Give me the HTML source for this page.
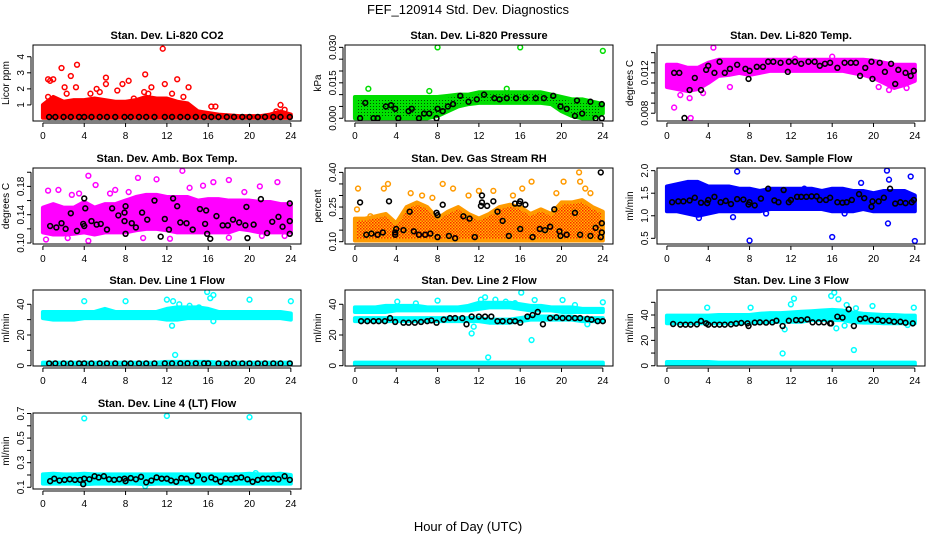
<!DOCTYPE html>
<html><head><meta charset="utf-8"><style>
html,body{margin:0;padding:0;background:#fff;}
svg{display:block;font-family:"Liberation Sans",sans-serif;}
</style></head><body>
<svg id="chart" width="936" height="540" viewBox="0 0 936 540" xmlns="http://www.w3.org/2000/svg">
<defs>
<pattern id="pGreen" width="3" height="3" patternUnits="userSpaceOnUse"><rect width="3" height="3" fill="#00e000"/><rect x="1" y="1" width="1" height="1" fill="#005000"/></pattern>
<pattern id="pOrange" width="3" height="3" patternUnits="userSpaceOnUse"><rect width="3" height="3" fill="#ffc000"/><rect x="0" y="0" width="1.5" height="1.5" fill="#ff2000"/><rect x="1.5" y="1.5" width="1.5" height="1.5" fill="#ff4000"/></pattern>
</defs>
<text x="468" y="14" font-size="13" text-anchor="middle">FEF_120914  Std. Dev. Diagnostics</text>
<text x="468" y="531" font-size="13" text-anchor="middle">Hour of Day (UTC)</text>
</svg>
<script>
// ---------- data ----------
const xTicks = [0,4,8,12,16,20,24];
const bandHours = [0,1,2,3,4,5,6,7,8,9,10,11,12,13,14,15,16,17,18,19,20,21,22,23,24];

const co2BandLow  = [0.2,0.2,0.2,0.2,0.2,0.2,0.2,0.2,0.2,0.2,0.2,0.2,0.2,0.2,0.2,0.2,0.2,0.2,0.2,0.2,0.2,0.2,0.2,0.2,0.2];
const co2BandHigh = [1.0,1.5,1.2,1.3,1.3,1.4,1.3,1.2,1.2,1.3,1.5,1.4,1.4,1.2,1.1,0.6,0.5,0.4,0.35,0.3,0.3,0.3,0.4,0.6,0.4];
const co2Outliers = [[0.5,2.6],[0.7,2.5],[1,2.6],[1.8,3.3],[2.1,2.1],[2.7,2.8],[3.3,3.5],[3.2,2.1],[6.1,2.7],[6.1,2.3],[7.7,2.3],[8.3,2.5],[9.9,2.9],[10.5,2.1],[11.6,4.5],[11.8,2.3],[13,2.6],[14.1,2.1],[4.6,1.7],[5.2,2.0],[0.5,1.5],[5.5,1.8],[8.8,1.4],[9.8,1.8],[12.5,1.7],[23,1.0],[22.6,0.6],[23.4,0.7],[16.3,0.9],[16.7,0.9],[2.3,1.7],[7.2,1.9],[10.2,1.7],[13.6,1.5]];
const co2Black = [[0.6,0.25],[1.2,0.25],[2,0.25],[2.7,0.25],[3.5,0.25],[4,0.25],[4.7,0.25],[5.5,0.25],[6.2,0.25],[7,0.25],[7.9,0.25],[8.5,0.25],[9.3,0.25],[10,0.25],[10.8,0.25],[11.8,0.25],[12.5,0.25],[13.3,0.25],[14,0.25],[14.8,0.25],[15.6,0.25],[16.3,0.25],[17,0.25],[17.8,0.25],[18.5,0.25],[19.3,0.25],[20,0.25],[20.8,0.25],[21.5,0.25],[22.3,0.25],[23,0.25],[23.9,0.25]];

const presBandLow  = [0,0,0,0,0,0,0,0,0.001,0.003,0.005,0.006,0.0065,0.0065,0.0065,0.0065,0.0065,0.0065,0.0065,0.006,0.003,0.001,0,0,0.002];
const presBandHigh = [0.009,0.009,0.009,0.009,0.009,0.009,0.009,0.009,0.009,0.0095,0.010,0.010,0.011,0.011,0.011,0.011,0.011,0.011,0.011,0.010,0.009,0.008,0.008,0.007,0.006];
const presOutliers = [[8,0.030],[16,0.030],[24,0.0285],[1.3,0.0125],[7.2,0.0115],[14.7,0.0125]];
const presBlack = [[0.5,0],[1,0.0065],[1.8,0],[2.2,0],[3,0.005],[3.5,0.0055],[3.9,0.004],[4.2,0],[5.2,0.003],[5.5,0.004],[6.2,0],[6.7,0.002],[7.2,0.002],[7.9,0],[8,0.004],[8.5,0.003],[9,0.005],[9.5,0.006],[10.2,0.0095],[11,0.007],[11.8,0.008],[12.5,0.010],[13.5,0.0085],[14,0.008],[14.7,0.0085],[15.6,0.0085],[16.5,0.0085],[17.5,0.0085],[18.3,0.0085],[19.2,0.0095],[19.9,0.005],[20.5,0.004],[21.3,0.001],[21.5,0.0075],[22,0.002],[22.8,0.007],[23.3,0],[23.9,0],[23.9,0.006]];

const tempBandLow  = [0.0106,0.0104,0.0102,0.0104,0.0110,0.0117,0.0118,0.0120,0.0118,0.0120,0.0122,0.0122,0.0122,0.0122,0.0122,0.0122,0.0122,0.0122,0.0120,0.0118,0.0115,0.0110,0.0105,0.0108,0.0112];
const tempBandHigh = [0.0128,0.0128,0.0125,0.0125,0.0130,0.0133,0.0133,0.0133,0.0133,0.0133,0.0133,0.0133,0.0133,0.0133,0.0133,0.0133,0.0133,0.0133,0.0133,0.0133,0.0132,0.0130,0.0128,0.0128,0.0128];
const tempOutliers = [[4.5,0.0145],[0.7,0.00856],[2.3,0.00753],[16,0.0136],[12.4,0.0134],[2.2,0.0095],[6.1,0.0106],[20.5,0.0106],[21.5,0.0103],[23.2,0.0105],[1.3,0.0098],[3.5,0.0100]];
const tempBlack = [[0.7,0.0120],[1.2,0.0120],[1.7,0.00753],[2.2,0.0103],[2.7,0.0115],[3.3,0.0103],[3.8,0.0123],[4,0.0127],[4.6,0.0120],[5.1,0.0131],[5.6,0.0120],[6.1,0.0124],[6.8,0.0128],[7.6,0.0124],[7.9,0.0114],[8,0.0122],[8.7,0.0126],[9.3,0.0126],[9.8,0.0131],[10.3,0.0131],[11,0.0130],[11.7,0.0121],[11.8,0.0131],[12.4,0.0131],[13,0.0129],[13.7,0.0131],[14.3,0.0131],[14.8,0.0127],[15.3,0.0129],[15.8,0.0130],[16.5,0.0125],[17.2,0.0130],[17.8,0.0130],[18.3,0.0130],[18.7,0.0117],[19.2,0.0125],[19.8,0.0131],[19.9,0.0114],[20.6,0.0130],[21.1,0.0121],[21.7,0.0129],[22.1,0.0109],[22.4,0.0123],[23.1,0.0120],[23.6,0.0117],[23.9,0.0122]];

const ambBandLow  = [0.115,0.112,0.112,0.113,0.115,0.112,0.115,0.115,0.115,0.118,0.12,0.12,0.118,0.115,0.115,0.115,0.115,0.115,0.115,0.12,0.118,0.115,0.115,0.115,0.115];
const ambBandHigh = [0.15,0.155,0.15,0.15,0.158,0.15,0.155,0.155,0.16,0.165,0.168,0.168,0.165,0.165,0.165,0.16,0.162,0.162,0.16,0.16,0.16,0.158,0.158,0.155,0.155];
const ambOutliers = [[0.5,0.174],[1.5,0.175],[2.8,0.168],[4.4,0.195],[5.1,0.182],[7,0.175],[9.2,0.192],[11,0.19],[13.5,0.202],[15.5,0.181],[16.5,0.186],[18,0.189],[21,0.18],[22.7,0.186],[0.3,0.105],[2.4,0.107],[4.4,0.103],[9.7,0.107],[12.3,0.106],[18,0.1075],[21.2,0.11],[23.4,0.11],[3.5,0.17],[6.5,0.17],[8.3,0.172],[14.2,0.178],[19.5,0.172]];
const ambBlack = [[0.7,0.124],[1.3,0.122],[1.8,0.128],[2.2,0.120],[2.7,0.142],[3.3,0.117],[3.9,0.127],[4,0.124],[4,0.163],[4.1,0.149],[4.7,0.131],[5.2,0.126],[5.6,0.127],[6.2,0.119],[6.7,0.149],[7.3,0.139],[7.9,0.131],[7.9,0.143],[8,0.152],[8,0.113],[8.6,0.128],[9,0.122],[9.6,0.143],[10.1,0.133],[10.8,0.160],[11.4,0.109],[11.8,0.134],[12.2,0.119],[12.6,0.163],[13,0.152],[13.3,0.129],[13.9,0.128],[14.5,0.119],[15.2,0.148],[15.7,0.127],[15.8,0.146],[15.9,0.113],[16.2,0.106],[16.8,0.138],[17.4,0.125],[17.9,0.125],[18.4,0.133],[19,0.129],[19.6,0.125],[19.7,0.151],[19.8,0.107],[20.4,0.126],[21.1,0.162],[21.7,0.114],[22.2,0.130],[22.8,0.137],[23.2,0.123],[23.9,0.113],[23.9,0.131],[23.9,0.156]];

const rhBandLow  = [0.105,0.105,0.105,0.105,0.105,0.105,0.105,0.105,0.105,0.105,0.105,0.105,0.105,0.105,0.105,0.105,0.105,0.105,0.105,0.105,0.105,0.105,0.105,0.105,0.105];
const rhBandHigh = [0.2,0.2,0.21,0.22,0.18,0.25,0.27,0.25,0.2,0.23,0.25,0.22,0.2,0.22,0.25,0.26,0.25,0.22,0.24,0.22,0.27,0.27,0.28,0.25,0.23];
const rhOutliers = [[0.3,0.33],[3.2,0.35],[2.8,0.33],[5.4,0.31],[8.5,0.35],[9.5,0.33],[12,0.32],[13.4,0.32],[15.3,0.30],[16.2,0.33],[17.1,0.36],[19.5,0.31],[20.2,0.36],[21.7,0.40],[21.8,0.36],[22.3,0.33],[22.8,0.31],[0.2,0.24],[1.5,0.21],[7.5,0.29],[6.5,0.3],[11,0.3]];
const rhBlack = [[0.5,0.27],[1.1,0.13],[1.6,0.135],[2.2,0.13],[2.7,0.14],[3.3,0.275],[3.9,0.13],[3.9,0.14],[4.0,0.155],[4.7,0.15],[5.3,0.23],[5.7,0.145],[6.2,0.13],[6.8,0.13],[7.3,0.135],[7.9,0.225],[8.0,0.215],[8,0.12],[8.5,0.26],[9.1,0.125],[9.7,0.115],[10.5,0.21],[11.1,0.2],[11.6,0.12],[12.2,0.255],[12.3,0.3],[12.3,0.27],[12.8,0.255],[13.4,0.275],[13.8,0.23],[14.3,0.19],[14.9,0.125],[15.5,0.265],[15.9,0.265],[16,0.275],[16,0.155],[16.5,0.26],[17.2,0.12],[17.9,0.155],[18.4,0.15],[18.9,0.165],[19.3,0.24],[19.8,0.145],[19.9,0.125],[20.5,0.13],[21.3,0.225],[21.8,0.13],[22.8,0.125],[23.3,0.16],[23.8,0.12],[23.9,0.18],[23.9,0.14],[23.8,0.4]];

const flowBandLow  = [1.1,1.1,1.05,1.0,1.05,1.1,1.1,1.1,1.1,1.1,1.15,1.15,1.15,1.15,1.15,1.15,1.1,1.1,1.1,1.15,1.1,1.1,1.1,1.1,1.1];
const flowBandHigh = [1.65,1.7,1.75,1.75,1.65,1.65,1.65,1.6,1.6,1.55,1.6,1.6,1.6,1.6,1.6,1.55,1.6,1.6,1.55,1.55,1.5,1.55,1.55,1.55,1.45];
const flowOutliers = [[6.8,1.98],[8,0.45],[16,0.53],[21.3,2.0],[21.5,1.8],[21.4,0.83],[23.6,1.87],[24,0.44],[13.3,1.6],[18.8,1.73],[3.1,0.95],[6.4,0.97],[17.2,1.05],[9.6,1.05]];
const flowBlack = [[0.5,1.3],[1.1,1.32],[1.6,1.32],[2.2,1.34],[2.7,1.4],[3.3,1.29],[3.9,1.28],[4,1.35],[4.6,1.42],[5.2,1.3],[5.7,1.33],[6.2,1.26],[6.8,1.37],[7.4,1.36],[7.9,1.25],[8,1.3],[8.5,1.23],[9.1,1.38],[9.8,1.6],[10.4,1.34],[10.8,1.3],[11.3,1.57],[11.8,1.3],[12,1.35],[12.6,1.42],[13,1.42],[13.5,1.42],[14,1.43],[14.5,1.43],[14.8,1.35],[15.4,1.35],[15.8,1.4],[16.5,1.3],[17,1.29],[17.4,1.3],[17.9,1.35],[18.6,1.48],[19.1,1.39],[19.8,1.2],[19.9,1.32],[20.5,1.32],[21,1.4],[21.6,1.6],[22.1,1.27],[22.6,1.3],[23.1,1.28],[23.7,1.3],[23.9,1.35]];

const l1BandLow  = [31,30,30,30,31,31,31,31,31,31,31,31,30,30,31,31,31,31,31,31,31,31,31,31,30];
const l1BandHigh = [35,35,35,35,35,35,37,35,35,35,35,35,37,38,38,38,37,35,35,35,35,35,35,35,34];
const l1ZeroHigh = [2,2,2,2,2,2,2,2,2,2,2,2,2.5,2.5,2.5,2.5,2.5,2,2,2,2,2,2,2,2];
const l1Outliers = [[4,42],[8,42],[12,43],[12.6,42],[12.5,26],[12.8,7],[13.2,40],[14.2,39],[15.1,38],[15.7,32],[15.9,48],[16.2,44],[16.5,46],[16.5,29],[20,43],[24,42]];
const l1Black = [[0.6,1.5],[1.2,1.5],[2,1.5],[2.7,1.5],[3.5,1.5],[4,1.5],[4.7,1.5],[5.5,1.5],[6.2,1.5],[7,1.5],[7.9,1.5],[8.5,1.5],[9.3,1.5],[10,1.5],[10.8,1.5],[11.8,1.5],[12.5,1.5],[13.3,1.5],[14,1.5],[14.8,1.5],[15.6,1.5],[16,1.5],[17,1.5],[17.8,1.5],[18.5,1.5],[19.3,1.5],[20,1.5],[20.8,1.5],[21.5,1.5],[22.3,1.5],[23,1.5],[23.9,1.5]];

const l2BandLow  = [35,35,35,35,36,36,36,36,36,36,36,36,37,38,38,38,37,36,36,36,35,35,35,35,35];
const l2BandHigh = [38,38,38,39,39,39,39,38,38,38,38,39,41,41,41,41,40,39,39,38,38,38,37,37,37];
const l2LowBandLow  = [29,29,29,29,29,29,29,29,29,29,29,29,29,28,28,28,29,30,30,30,30,30,29,29,29];
const l2LowBandHigh = [31,31,31,31,31,31,31,31,31,31,31,31,31,30,30,30,31,32,32,32,32,32,31,31,31];
const l2ZeroHigh = [2,2,2,2,2,2,2,2,2,2,2,2,2,2,2,2,2,2,2,2,2,2,2,2,2];
const l2Outliers = [[4.1,41.7],[8,42.4],[5.9,40.6],[11.3,21],[11.5,25.4],[12.2,43],[12.6,44.6],[12.9,5.4],[13.6,43],[14.6,41.7],[15.5,40.7],[16.1,47.6],[17.4,42.8],[17.1,16.7],[20.1,42.8],[22.5,27],[24,41.3],[21.3,39.5]];
const l2Black = [[0.6,29],[1.2,29],[1.8,29],[2.3,29],[2.9,29],[3.4,31],[3.9,28.5],[4.7,28],[5.2,28],[5.8,28],[6.4,28.5],[7,29],[7.4,29.5],[7.9,28],[8.6,30],[9.2,31],[9.7,31],[10.4,31],[10.8,27],[11.3,32],[12,32],[12.6,32],[13.2,32],[13.8,29],[14.3,29],[15,29],[15.5,29],[16,28],[16.7,32],[17.2,33],[17.7,35],[18.2,27],[18.9,31],[19.5,31.5],[20.1,31],[20.7,31],[21.3,31],[21.8,31],[22.5,30.5],[22.9,30],[23.5,29],[24,29]];

const l3BandLow  = [33.5,33.5,33.5,33.5,33.5,33.5,33.5,33.5,34,34,34.7,34.7,34.7,34.7,36,36,36,36,34.5,34,34,33.5,33.5,33.5,33.5];
const l3BandHigh = [39.5,39.5,39.5,39.5,39.5,40,40,40,40,41,41.5,41.5,42,42.6,43,43.5,44,43.5,42,41,40.5,40,40,39.5,39.5];
const l3ZeroHigh = [3,3,3,3,3,2.5,2.5,2.5,2.5,2.5,2.5,2.5,2.5,2.5,2.5,2.5,2.5,2.5,2.5,2.5,2.5,2.5,2.5,2.5,2.5];
const l3Outliers = [[3.9,45.8],[8.1,45.8],[11.2,9.7],[12,48.4],[12.3,52.9],[15.9,55],[16.2,57.6],[16.6,52.4],[16.4,29.5],[17.2,31.6],[17.4,47.9],[18.1,12.4],[18.3,45.3],[19.9,47.1],[23.3,32.1],[23.9,45.8],[12.1,40.5],[11.4,28.7]];
const l3Black = [[0.6,32.9],[1.3,32.4],[1.8,32.4],[2.3,32.4],[2.9,32.6],[3.3,35.3],[3.8,33.4],[4,32.4],[4.6,32.4],[5.1,32.4],[5.6,32.4],[6.2,32.6],[6.7,33.2],[7.2,33.7],[7.8,33.4],[7.9,31.3],[8.5,34],[9,34.2],[9.6,34],[10.2,34.2],[10.6,35.5],[11.2,31.3],[11.8,35.5],[12.5,36],[13,36],[13.6,36.6],[14.1,34.2],[14.7,34.2],[15.2,34.2],[15.8,33.4],[15.9,33.4],[16.5,38.7],[17,37.9],[17.6,44.5],[18.1,31.3],[18.7,36.8],[19.2,37.4],[19.8,36],[20.4,36.3],[20.9,35.5],[21.5,35.5],[22,34.7],[22.6,34.7],[23.1,33.9],[23.8,33.4]];

const l4BandLow  = [0.13,0.13,0.13,0.13,0.125,0.13,0.13,0.13,0.13,0.13,0.125,0.13,0.13,0.13,0.13,0.13,0.13,0.13,0.13,0.13,0.13,0.13,0.13,0.13,0.13];
const l4BandHigh = [0.205,0.21,0.205,0.205,0.21,0.205,0.205,0.205,0.205,0.205,0.205,0.205,0.205,0.205,0.205,0.205,0.205,0.205,0.205,0.205,0.21,0.205,0.205,0.21,0.2];
const l4Outliers = [[4,0.66],[12,0.68],[20,0.67],[9.9,0.11],[20.6,0.215]];
const l4Black = [[0.7,0.15],[1.1,0.17],[1.6,0.155],[2.1,0.16],[2.6,0.165],[3.1,0.16],[3.6,0.16],[3.9,0.125],[4,0.17],[4.5,0.165],[5,0.19],[5.4,0.18],[5.9,0.19],[6.4,0.165],[6.9,0.16],[7.4,0.165],[7.9,0.17],[8,0.15],[8.5,0.175],[9,0.165],[9.5,0.185],[10,0.14],[10.5,0.155],[11,0.18],[11.5,0.17],[12,0.17],[12.4,0.155],[12.9,0.145],[13.4,0.175],[13.9,0.17],[14.4,0.15],[15,0.195],[15.6,0.165],[16.3,0.18],[16.7,0.165],[17.2,0.145],[17.7,0.17],[18.2,0.165],[18.7,0.175],[19.2,0.18],[19.8,0.165],[20.3,0.145],[20.8,0.16],[21.3,0.17],[21.8,0.17],[22.3,0.17],[22.8,0.165],[23.4,0.19],[23.9,0.16]];

// ---------- layout ----------
const NS = "http://www.w3.org/2000/svg";
const svg = document.getElementById('chart');
const colLeft = [33,345,657];
const rowTop = [45,168,290,413];
const BOXW = 268, BOXH = 76, PXH = 10.33;

function mk(tag, attrs, parent){
  const e = document.createElementNS(NS, tag);
  for (const k in attrs) e.setAttribute(k, attrs[k]);
  (parent||svg).appendChild(e);
  return e;
}

const panels = [
  {key:'co2', title:'Stan. Dev. Li-820 CO2', ylab:'Licor ppm', col:0,row:0, ymin:0.0, ymax:4.73, ticks:[1,2,3,4], labels:['1','2','3','4'], color:'#ff0000', fill:'#ff0000',
   bands:[[co2BandLow,co2BandHigh]], out:co2Outliers, black:co2Black},
  {key:'pressure', title:'Stan. Dev. Li-820 Pressure', ylab:'kPa', col:1,row:0, ymin:-0.00116, ymax:0.0310, ticks:[0,0.005,0.01,0.015,0.02,0.025,0.03], labels:['0.000','','','0.015','','','0.030'], color:'#00dd00', fill:'url(#pGreen)',
   bands:[[presBandLow,presBandHigh]], out:presOutliers, black:presBlack},
  {key:'li-temp', title:'Stan. Dev. Li-820 Temp.', ylab:'degrees C', col:2,row:0, ymin:0.00723, ymax:0.01476, ticks:[0.008,0.009,0.010,0.011,0.012,0.013,0.014], labels:['0.008','','','','0.012','',''], color:'#ff00ff', fill:'#ff00ff',
   bands:[[tempBandLow,tempBandHigh]], out:tempOutliers, black:tempBlack},
  {key:'amb-temp', title:'Stan. Dev. Amb. Box Temp.', ylab:'degrees C', col:0,row:1, ymin:0.0986, ymax:0.206, ticks:[0.10,0.12,0.14,0.16,0.18,0.20], labels:['0.10','','0.14','','0.18',''], color:'#ff00ff', fill:'#ff00ff',
   bands:[[ambBandLow,ambBandHigh]], out:ambOutliers, black:ambBlack},
  {key:'rh', title:'Stan. Dev. Gas Stream RH', ylab:'percent', col:1,row:1, ymin:0.090, ymax:0.419, ticks:[0.10,0.15,0.20,0.25,0.30,0.35,0.40], labels:['0.10','','','0.25','','','0.40'], color:'#ff9a00', fill:'url(#pOrange)',
   bands:[[rhBandLow,rhBandHigh]], out:rhOutliers, black:rhBlack},
  {key:'sample-flow', title:'Stan. Dev. Sample Flow', ylab:'ml/min', col:2,row:1, ymin:0.374, ymax:2.059, ticks:[0.5,1.0,1.5,2.0], labels:['0.5','1.0','1.5','2.0'], color:'#0000ff', fill:'#0000ff',
   bands:[[flowBandLow,flowBandHigh]], out:flowOutliers, black:flowBlack},
  {key:'line1', title:'Stan. Dev. Line 1 Flow', ylab:'ml/min', col:0,row:2, ymin:-0.2, ymax:49.3, ticks:[0,10,20,30,40], labels:['0','','20','','40'], color:'#00ffff', fill:'#00ffff',
   bands:[[l1BandLow,l1BandHigh],[null,l1ZeroHigh]], out:l1Outliers, black:l1Black},
  {key:'line2', title:'Stan. Dev. Line 2 Flow', ylab:'ml/min', col:1,row:2, ymin:-0.2, ymax:49.3, ticks:[0,10,20,30,40], labels:['0','','20','','40'], color:'#00ffff', fill:'#00ffff',
   bands:[[l2BandLow,l2BandHigh],[l2LowBandLow,l2LowBandHigh],[null,l2ZeroHigh]], out:l2Outliers, black:l2Black},
  {key:'line3', title:'Stan. Dev. Line 3 Flow', ylab:'ml/min', col:2,row:2, ymin:-0.2, ymax:59.7, ticks:[0,10,20,30,40,50], labels:['0','','20','','40',''], color:'#00ffff', fill:'#00ffff',
   bands:[[l3BandLow,l3BandHigh],[null,l3ZeroHigh]], out:l3Outliers, black:l3Black},
  {key:'line4', title:'Stan. Dev. Line 4 (LT) Flow', ylab:'ml/min', col:0,row:3, ymin:0.086, ymax:0.704, ticks:[0.1,0.2,0.3,0.4,0.5,0.6,0.7], labels:['0.1','','0.3','','0.5','','0.7'], color:'#00ffff', fill:'#00ffff',
   bands:[[l4BandLow,l4BandHigh]], out:l4Outliers, black:l4Black}
];

panels.forEach(p => {
  const L = colLeft[p.col], T = rowTop[p.row], B = T + BOXH;
  const xs = h => L + (h + 0.96) * PXH;
  const ys = v => B - (v - p.ymin) / (p.ymax - p.ymin) * BOXH;
  const g = mk('g', {});
  
  
  const clipId = 'clip-' + p.key;
  const cp = mk('clipPath', {id: clipId}, g);
  mk('rect', {x:L, y:T, width:BOXW, height:BOXH}, cp);

  const t = mk('text', {x:L + BOXW/2, y:T - 6, 'font-size':11, 'font-weight':'bold', 'text-anchor':'middle'}, g);
  
  
  t.textContent = p.title;

  const data = mk('g', {'clip-path':'url(#' + clipId + ')'}, g);
  
  
  p.bands.forEach(bd => {
    const lo = bd[0], hi = bd[1];
    let pts = bandHours.map((h,i) => xs(h) + ',' + ys(hi[i]));
    pts = pts.concat(bandHours.slice().reverse().map((h,j) => {
      const i = bandHours.length - 1 - j;
      return xs(h) + ',' + ys(lo ? lo[i] : 0);
    }));
    const poly = mk('polygon', {points: pts.join(' '), fill: p.fill, stroke: p.color, 'stroke-width': 4, 'stroke-linejoin':'round'}, data);
    
    
  });
  p.out.forEach(d => {
    const c = mk('circle', {cx: xs(d[0]), cy: ys(d[1]), r: 2.4, fill:'none', stroke: p.color, 'stroke-width': 1.5}, data);
    
    
  });
  p.black.forEach(d => {
    const c = mk('circle', {cx: xs(d[0]), cy: ys(d[1]), r: 2.4, fill:'none', stroke:'#000', 'stroke-width': 1.6}, data);
    
    
  });

  const box = mk('rect', {x:L, y:T, width:BOXW, height:BOXH, fill:'none', stroke:'#000', 'stroke-width':1}, g);
  
  

  const xa = mk('g', {}, g);
  
  
  mk('line', {x1:xs(xTicks[0]), x2:xs(xTicks[xTicks.length-1]), y1:B+2, y2:B+2, stroke:'#000'}, xa);
  xTicks.forEach(v => {
    mk('line', {x1:xs(v), x2:xs(v), y1:B+2, y2:B+6, stroke:'#000'}, xa);
    const tx = mk('text', {x:xs(v), y:B+18, 'font-size':10, 'text-anchor':'middle'}, xa);
    
    
    tx.textContent = v;
  });
  const ya = mk('g', {}, g);
  
  
  mk('line', {x1:L-2, x2:L-2, y1:ys(p.ticks[0]), y2:ys(p.ticks[p.ticks.length-1]), stroke:'#000'}, ya);
  p.ticks.forEach((v,i) => {
    const yy = ys(v);
    mk('line', {x1:L-6, x2:L-2, y1:yy, y2:yy, stroke:'#000'}, ya);
    if (p.labels[i]) {
      const tx = mk('text', {x:0, y:0, 'font-size':10, 'text-anchor':'middle', transform:'translate(' + (L-9) + ',' + yy + ') rotate(-90)'}, ya);
      
      
      tx.textContent = p.labels[i];
    }
  });
  const yl = mk('text', {x:0, y:0, 'font-size':10, 'text-anchor':'middle', transform:'translate(' + (L-24) + ',' + (T + BOXH/2) + ') rotate(-90)'}, g);
  
  
  yl.textContent = p.ylab;
});
</script>
</body></html>
